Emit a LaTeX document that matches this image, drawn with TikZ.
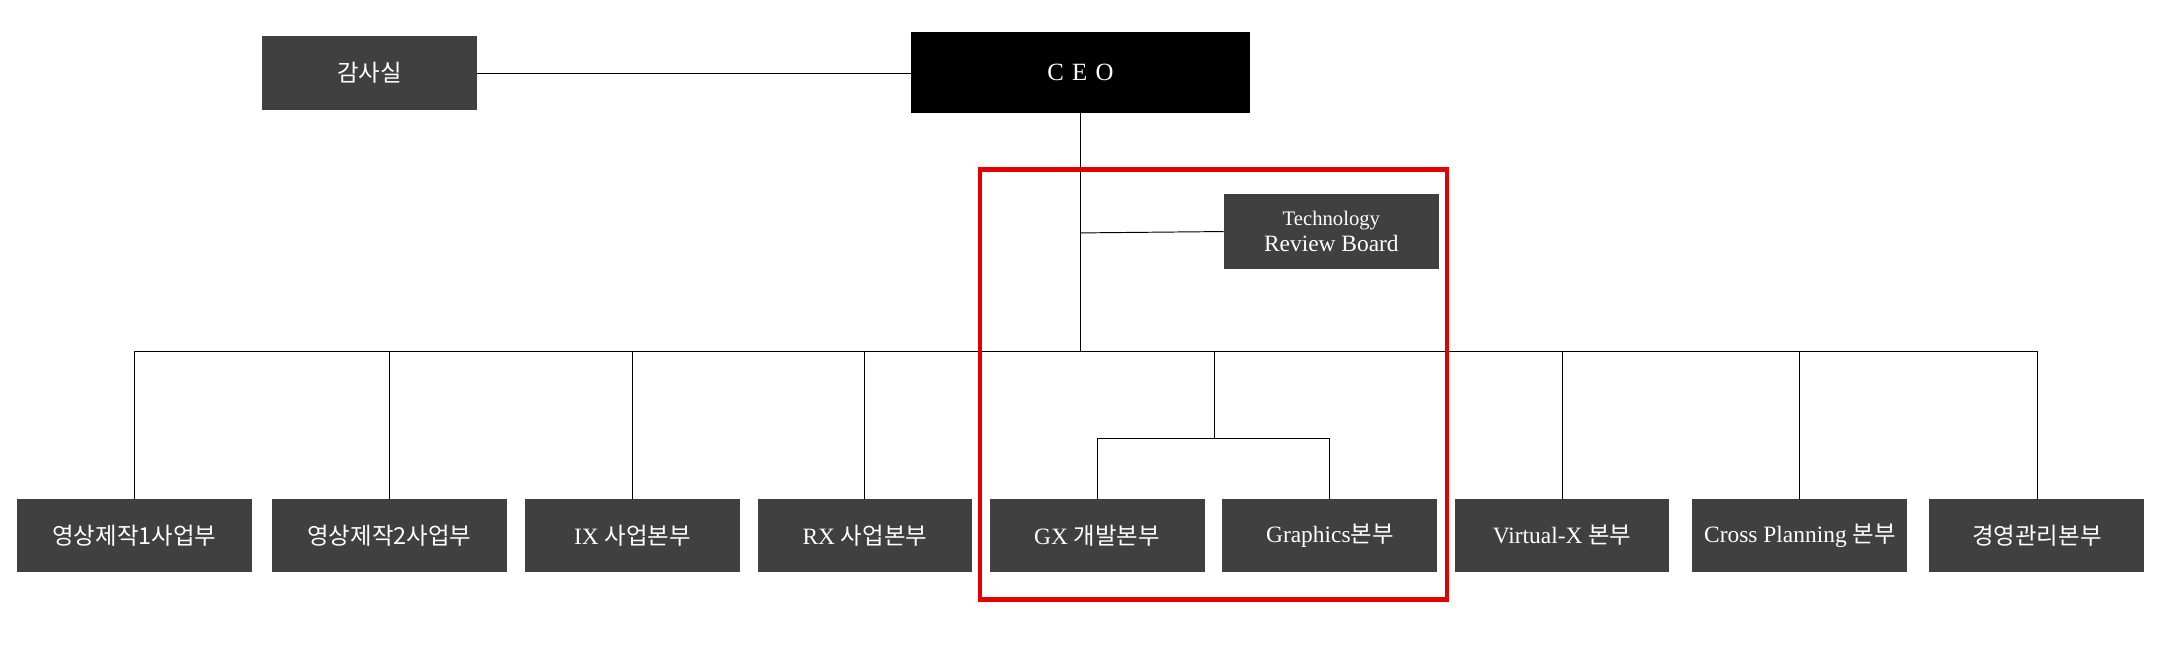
\documentclass[tikz,border=0pt]{standalone}
\usepackage{fontspec}
\setmainfont{Liberation Serif}
\newfontfamily\kr{Noto Sans CJK KR}
\begin{document}
\begin{tikzpicture}[x=1pt,y=-1pt,
  bx/.style={fill=boxgray,draw=none,text=white,font=\fontsize{17}{19}\selectfont,inner sep=0pt,align=center},
  ln/.style={draw=black,line width=0.7pt}]
\definecolor{boxgray}{HTML}{404040}
\useasboundingbox (0,0) rectangle (1568,469);
\newcommand\bb[6]{\node[bx,minimum width=#3-#2,minimum height=#5-#4] (#1) at ({(#2+#3)/2},{(#4+#5)/2}) {#6};}
\bb{audit}{190}{346}{26}{80}{\kr 감사실}
\node[fill=black,text=white,minimum width=246,minimum height=59,font=\fontsize{18}{20}\selectfont] (ceo) at (784,52.5) {C\,\,E\,\,O};
\bb{trb}{888}{1044}{141}{195}{\fontsize{15}{18}\selectfont Technology\\ Review Board}
\bb{b1}{12}{183}{362}{415}{\kr 영상제작1사업부}
\bb{b2}{197}{368}{362}{415}{\kr 영상제작2사업부}
\bb{b3}{381}{537}{362}{415}{IX {\kr 사업본부}}
\bb{b4}{550}{705}{362}{415}{RX {\kr 사업본부}}
\bb{b5}{718}{874}{362}{415}{GX {\kr 개발본부}}
\bb{b6}{887}{1043}{362}{415}{Graphics{\kr 본부}}
\bb{b7}{1056}{1211}{362}{415}{Virtual-X {\kr 본부}}
\bb{b8}{1228}{1384}{362}{415}{Cross Planning {\kr 본부}}
\bb{b9}{1400}{1556}{362}{415}{\kr 경영관리본부}
\coordinate (bus) at (784,255);
\coordinate (gx) at (881,255);
\coordinate (sub) at (881,318);
\draw[ln] (audit.east) -- (audit.east -| ceo.west);
\draw[ln] (ceo.south) -- (bus);
\draw[ln] (784,169) -- (trb.west);
\draw[ln] (b1.north |- bus) -- (b9.north |- bus);
\foreach \b in {b1,b2,b3,b4,b7,b8,b9} \draw[ln] (\b.north |- bus) -- (\b.north);
\draw[ln] (gx) -- (sub);
\draw[ln] (b5.north |- sub) -- (b6.north |- sub);
\draw[ln] (b5.north |- sub) -- (b5.north);
\draw[ln] (b6.north |- sub) -- (b6.north);
\draw[red!90!black,line width=3pt] (711,123) rectangle (1050,435);
\end{tikzpicture}
\end{document}
